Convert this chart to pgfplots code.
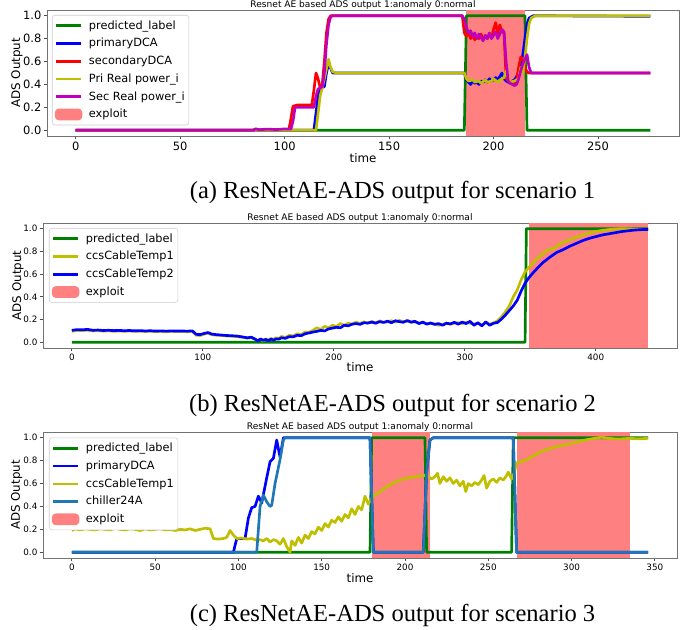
\documentclass[border=0pt]{standalone}
\usepackage{fontspec}
\setmainfont{DejaVu Sans}
\newfontfamily\capfont{Liberation Serif}
\usepackage{pgfplots}
\pgfplotsset{compat=1.18}

\definecolor{mplgreen}{rgb}{0,0.5,0}
\definecolor{mplblue}{rgb}{0,0,1}
\definecolor{mplred}{rgb}{1,0,0}
\definecolor{mplyellow}{rgb}{0.75,0.75,0}
\definecolor{mplmagenta}{rgb}{0.75,0,0.75}
\definecolor{mplCzero}{RGB}{31,119,180}
\definecolor{exploitred}{RGB}{255,128,128}

\pgfplotsset{
  every axis title shift=0pt,
  adsaxis/.style={
    scale only axis,
    anchor=south west,
    ymin=-0.05, ymax=1.05,
    ytick={0,0.2,0.4,0.6,0.8,1.0},
    yticklabel style={xshift=1.8pt, /pgf/number format/.cd,fixed,fixed zerofill,precision=1},
    /pgf/number format/assume math mode=true,
    axis line style={black!55,line width=0.6pt},
    tick align=outside,
    tick style={black!70,line width=0.6pt},
    major tick length=2.5pt,
    xtick pos=bottom, ytick pos=left,
    xticklabel style={yshift=1.2pt},
    xlabel={time}, ylabel={ADS Output},
    label style={font=\fontsize{8.9}{10}\selectfont},
    title style={font=\fontsize{6.8}{8}\selectfont, at={(0.5,1)}, anchor=south, inner sep=0.6pt},
    legend cell align=left,
    legend style={at={(0,1)}, anchor=north west, draw=black!20, rounded corners=2pt, fill=white,
      font=\fontsize{8.5}{10}\selectfont, inner xsep=2pt, inner ysep=2.2pt, row sep=1.9pt,
      nodes={inner sep=1pt, text height=0.72em, text depth=0.22em},
      /tikz/every odd column/.append style={column sep=4pt}},
    legend image code/.code={\draw[##1,line width=2pt] (0pt,0pt) -- (18.5pt,0pt);},
    every axis plot/.append style={line width=2pt, line join=round},
  },
  exploitlegend/.style={legend image code/.code={\fill[exploitred] (0pt,-3.4pt) rectangle (18.5pt,3.4pt);}},
}

\begin{document}
\begin{tikzpicture}
\useasboundingbox (0,0) rectangle (524.25pt,471.75pt);

% ---------------- scenario 1
\begin{axis}[adsaxis,
  at={(35.25pt,369.75pt)}, width=474pt, height=94.5pt,
  xmin=-13.75, xmax=288.75, xtick={0,50,...,250},
  tick label style={font=\fontsize{8.6}{10}\selectfont},
  title={Resnet AE based ADS output 1:anomaly 0:normal},
  xlabel style={at={(axis description cs:0.5,-0.175)}, anchor=center},
  ylabel style={at={(axis description cs:-0.0475,0.5)}, anchor=center},
  legend style={xshift=3.75pt, yshift=-3.75pt},
]
\addplot[fill=exploitred, draw=none, forget plot] coordinates {(187,-0.05) (187,1.05) (215,1.05) (215,-0.05)} -- cycle;
\addplot[mplgreen] coordinates {(0,0)(186,0)(187,1)(215,1)(216,0)(275,0)};
\addlegendentry{predicted\_label}
\addplot[mplblue] coordinates {(0,0)(114,0)(116,0.3)(117,0.37)(119,0.38)(120,0.5)(121,0.58)(123,0.5)(186,0.5)(187,0.44)(188,0.42)(189,0.40)(190,0.43)(191,0.41)(192,0.42)(193,0.40)(194,0.43)(195,0.42)(196,0.44)(197,0.42)(198,0.45)(199,0.43)(200,0.44)(201,0.46)(202,0.44)(203,0.47)(204,0.50)(205,0.45)(206,0.43)(207,0.42)(208,0.41)(209,0.43)(210,0.44)(211,0.47)(212,0.50)(213,0.56)(214,0.66)(215,0.80)(216,0.93)(217,0.98)(219,1.0)(275,0.995)};
\addlegendentry{primaryDCA}
\addplot[mplred] coordinates {(0,0)(85,0)(86,0.01)(88,0.005)(95,0.005)(100,0.008)(102,0.005)(103,0.1)(104,0.21)(106,0.22)(113,0.22)(114,0.35)(115,0.50)(116,0.45)(117,0.37)(118,0.40)(119,0.6)(120,0.85)(121,0.97)(122,1.0)(185,1.0)(186,0.85)(187,0.82)(188,0.86)(189,0.80)(190,0.83)(191,0.79)(192,0.82)(193,0.80)(194,0.84)(195,0.79)(196,0.82)(197,0.80)(198,0.84)(199,0.81)(200,0.88)(201,0.94)(202,0.84)(203,0.92)(204,0.86)(205,0.85)(206,0.45)(207,0.43)(208,0.42)(209,0.43)(210,0.41)(211,0.44)(212,0.55)(213,0.64)(214,0.62)(215,0.55)(216,0.51)(217,0.5)(275,0.5)};
\addlegendentry{secondaryDCA}
\addplot[mplyellow] coordinates {(0,0)(115,0)(117,0.3)(118,0.37)(119,0.45)(121,0.62)(122,0.55)(123,0.51)(125,0.5)(186,0.5)(187,0.45)(188,0.43)(190,0.44)(191,0.42)(193,0.43)(194,0.41)(196,0.44)(197,0.42)(199,0.43)(200,0.45)(202,0.42)(203,0.44)(205,0.46)(206,0.52)(207,0.45)(208,0.42)(210,0.43)(211,0.44)(212,0.45)(213,0.55)(214,0.50)(215,0.63)(216,0.80)(217,0.93)(218,0.98)(220,1.0)(275,1.0)};
\addlegendentry{Pri Real power\_i}
\addplot[mplmagenta] coordinates {(0,0)(85,0)(86,0.012)(88,0.005)(92,0.01)(96,0.006)(100,0.012)(103,0.01)(104,0.08)(105,0.2)(114,0.2)(115,0.3)(116,0.36)(118,0.38)(119,0.5)(120,0.75)(121,0.92)(122,0.99)(123,1.0)(185,1.0)(186,0.97)(187,0.90)(188,0.85)(189,0.87)(190,0.82)(191,0.85)(192,0.80)(193,0.84)(194,0.81)(195,0.78)(196,0.83)(197,0.80)(198,0.85)(199,0.80)(200,0.83)(201,0.86)(202,0.80)(203,0.84)(204,0.88)(205,0.86)(206,0.60)(207,0.43)(208,0.41)(209,0.40)(210,0.39)(211,0.40)(212,0.45)(213,0.52)(214,0.58)(215,0.62)(216,0.66)(217,0.55)(218,0.5)(275,0.5)};
\addlegendentry{Sec Real power\_i}
\addlegendimage{exploitlegend}
\addlegendentry{exploit}
\end{axis}

% ---------------- scenario 2
\begin{axis}[adsaxis,
  at={(32.25pt,210.75pt)}, width=475.5pt, height=93.75pt,
  xmin=-22, xmax=462, xtick={0,100,...,400},
  tick label style={font=\fontsize{6.6}{8}\selectfont},
  title={Resnet AE based ADS output 1:anomaly 0:normal},
  xlabel style={at={(axis description cs:0.5,-0.149)}, anchor=center},
  ylabel style={at={(axis description cs:-0.0394,0.5)}, anchor=center},
  legend style={xshift=4.5pt, yshift=-3.75pt},
]
\addplot[fill=exploitred, draw=none, forget plot] coordinates {(349,-0.05) (349,1.05) (440,1.05) (440,-0.05)} -- cycle;
\addplot[mplgreen] coordinates {(0,0)(346,0)(347,1)(440,1)};
\addlegendentry{predicted\_label}
\addplot[mplyellow] coordinates {(0,0.098)(4,0.104)(8,0.103)(12,0.106)(16,0.100)(20,0.102)(24,0.098)(28,0.101)(32,0.097)(36,0.099)(40,0.097)(44,0.099)(48,0.096)(52,0.098)(56,0.095)(60,0.097)(64,0.094)(68,0.096)(72,0.093)(76,0.096)(80,0.094)(84,0.095)(88,0.093)(92,0.095)(95,0.062)(98,0.060)(101,0.072)(104,0.080)(107,0.066)(110,0.063)(114,0.060)(118,0.056)(122,0.054)(126,0.050)(130,0.045)(134,0.036)(137,0.042)(140,0.024)(142,0.015)(144,0.028)(146,0.012)(148,0.030)(150,0.018)(152,0.034)(154,0.026)(156,0.040)(158,0.032)(160,0.052)(163,0.042)(166,0.062)(169,0.055)(172,0.075)(175,0.066)(178,0.090)(181,0.088)(184,0.105)(187,0.128)(190,0.112)(193,0.140)(196,0.128)(199,0.150)(202,0.140)(205,0.165)(208,0.148)(211,0.170)(214,0.158)(217,0.178)(220,0.166)(223,0.180)(226,0.168)(229,0.184)(232,0.172)(235,0.188)(238,0.176)(241,0.180)(244,0.190)(247,0.178)(250,0.192)(253,0.182)(256,0.186)(259,0.175)(262,0.180)(265,0.170)(268,0.172)(271,0.165)(274,0.168)(277,0.160)(280,0.150)(283,0.158)(286,0.170)(289,0.158)(292,0.168)(295,0.172)(298,0.165)(301,0.176)(304,0.168)(307,0.160)(310,0.168)(313,0.152)(316,0.172)(319,0.160)(322,0.170)(325,0.190)(328,0.225)(331,0.270)(334,0.320)(337,0.400)(340,0.460)(343,0.550)(346,0.620)(349,0.660)(352,0.700)(356,0.745)(360,0.785)(364,0.815)(368,0.825)(372,0.860)(376,0.885)(380,0.902)(385,0.925)(390,0.945)(395,0.962)(400,0.975)(405,0.985)(410,0.992)(415,0.997)(420,1.0)(425,0.998)(430,0.995)(435,0.99)(440,0.985)};
\addlegendentry{ccsCableTemp1}
\addplot[mplblue] coordinates {(0,0.105)(4,0.112)(8,0.110)(12,0.114)(16,0.106)(20,0.108)(24,0.104)(28,0.106)(32,0.103)(36,0.105)(40,0.102)(44,0.104)(48,0.101)(52,0.103)(56,0.100)(60,0.102)(64,0.099)(68,0.101)(72,0.098)(76,0.101)(80,0.099)(84,0.100)(88,0.098)(92,0.101)(95,0.070)(98,0.068)(101,0.078)(104,0.086)(107,0.072)(110,0.068)(114,0.064)(118,0.060)(122,0.058)(126,0.055)(130,0.048)(134,0.040)(137,0.045)(140,0.028)(142,0.012)(144,0.030)(146,0.018)(148,0.025)(150,0.015)(152,0.028)(154,0.020)(156,0.030)(158,0.028)(160,0.040)(163,0.035)(166,0.050)(169,0.048)(172,0.062)(175,0.058)(178,0.075)(181,0.082)(184,0.090)(187,0.096)(190,0.105)(193,0.100)(196,0.118)(199,0.125)(202,0.132)(205,0.128)(208,0.150)(211,0.145)(214,0.160)(217,0.165)(220,0.158)(223,0.172)(226,0.170)(229,0.178)(232,0.168)(235,0.182)(238,0.175)(241,0.186)(244,0.172)(247,0.190)(250,0.182)(253,0.176)(256,0.192)(259,0.178)(262,0.185)(265,0.165)(268,0.178)(271,0.160)(274,0.170)(277,0.158)(280,0.165)(283,0.150)(286,0.168)(289,0.162)(292,0.176)(295,0.160)(298,0.178)(301,0.165)(304,0.185)(307,0.150)(310,0.172)(313,0.145)(316,0.180)(319,0.150)(322,0.168)(325,0.175)(328,0.205)(331,0.240)(334,0.280)(337,0.320)(340,0.370)(343,0.450)(346,0.520)(349,0.570)(352,0.610)(356,0.660)(360,0.705)(365,0.750)(370,0.790)(375,0.815)(380,0.845)(385,0.870)(390,0.895)(395,0.915)(400,0.930)(405,0.945)(410,0.955)(415,0.965)(420,0.975)(425,0.982)(430,0.988)(435,0.992)(440,0.993)};
\addlegendentry{ccsCableTemp2}
\addlegendimage{exploitlegend}
\addlegendentry{exploit}
\end{axis}

% ---------------- scenario 3
\begin{axis}[adsaxis,
  at={(32.25pt,53.25pt)}, width=475.5pt, height=94.5pt,
  xmin=-17.3, xmax=363.3, xtick={0,50,...,350},
  tick label style={font=\fontsize{6.6}{8}\selectfont},
  title={ResNet AE based ADS output 1:anomaly 0:normal},
  xlabel style={at={(axis description cs:0.5,-0.156)}, anchor=center},
  ylabel style={at={(axis description cs:-0.0415,0.5)}, anchor=center},
  legend style={xshift=4.5pt, yshift=-4.2pt},
]
\addplot[fill=exploitred, draw=none, forget plot] coordinates {(180,-0.05) (180,1.05) (215,1.05) (215,-0.05)} -- cycle;
\addplot[fill=exploitred, draw=none, forget plot] coordinates {(267,-0.05) (267,1.05) (335,1.05) (335,-0.05)} -- cycle;
\addplot[mplgreen] coordinates {(0,0)(179,0)(180,1)(212,1)(213,0)(264,0)(265,1)(346,1)};
\addlegendentry{predicted\_label}
\addplot[mplblue] coordinates {(0,0)(97,0)(99,0.12)(104,0.12)(106,0.3)(108,0.39)(110,0.40)(112,0.49)(114,0.43)(117,0.65)(119,0.79)(121,0.82)(123,0.98)(125,0.83)(127,1.0)(179,1.0)(181,0)(211,0)(213,0.7)(215,0.98)(217,1.0)(265,1.0)(267,0)(346,0)};
\addlegendentry{primaryDCA}
\addplot[mplyellow] coordinates {(0,0.19)(2,0.205)(5,0.195)(8,0.205)(11,0.20)(14,0.195)(17,0.205)(20,0.20)(23,0.195)(26,0.21)(29,0.20)(32,0.195)(35,0.205)(38,0.20)(41,0.19)(44,0.205)(47,0.195)(50,0.20)(53,0.205)(56,0.195)(59,0.20)(62,0.19)(65,0.20)(68,0.195)(71,0.205)(74,0.19)(77,0.20)(80,0.21)(83,0.205)(85,0.12)(88,0.115)(91,0.12)(93,0.13)(95,0.19)(97,0.15)(99,0.12)(102,0.125)(105,0.115)(108,0.12)(111,0.105)(113,0.11)(115,0.10)(117,0.12)(119,0.09)(121,0.11)(123,0.10)(125,0.07)(127,0.12)(129,0.05)(131,0.0)(132,0.1)(134,0.06)(136,0.13)(138,0.08)(140,0.15)(142,0.12)(144,0.18)(146,0.16)(148,0.22)(150,0.19)(152,0.25)(154,0.22)(156,0.28)(158,0.26)(160,0.31)(162,0.27)(164,0.33)(166,0.30)(168,0.38)(170,0.33)(172,0.40)(174,0.37)(176,0.49)(178,0.42)(180,0.47)(182,0.50)(185,0.53)(188,0.56)(191,0.59)(194,0.61)(197,0.63)(200,0.645)(203,0.65)(206,0.66)(209,0.665)(212,0.67)(214,0.66)(216,0.64)(218,0.66)(219.5,0.69)(221,0.60)(223,0.66)(225,0.62)(227,0.65)(229,0.60)(231,0.63)(233,0.58)(235,0.62)(236.5,0.53)(238,0.60)(240,0.58)(242,0.61)(244,0.59)(246,0.63)(247.5,0.67)(249,0.56)(251,0.62)(253,0.64)(255,0.61)(257,0.65)(259,0.63)(261,0.67)(262,0.70)(264,0.64)(265.5,0.69)(267,0.78)(270,0.79)(273,0.81)(276,0.83)(279,0.86)(282,0.88)(286,0.90)(290,0.92)(295,0.935)(300,0.95)(305,0.97)(310,0.985)(314,0.995)(318,1.005)(322,0.995)(326,0.99)(330,0.99)(335,0.995)(340,0.99)(346,0.995)};
\addlegendentry{ccsCableTemp1}
\addplot[mplCzero] coordinates {(0,0)(111,0)(113,0.4)(115,0.5)(117,0.44)(119,0.4)(120,0.41)(122,0.6)(125,0.81)(127,0.98)(128,1.0)(179,1.0)(181,0)(211,0)(213,0.7)(215,0.98)(217,1.0)(265,1.0)(267,0)(346,0)};
\addlegendentry{chiller24A}
\addlegendimage{exploitlegend}
\addlegendentry{exploit}
\end{axis}

% captions
\node[anchor=base, font=\capfont\fontsize{18.4}{20}\selectfont] at (294.4pt,322.5pt) {(a) ResNetAE-ADS output for scenario 1};
\node[anchor=base, font=\capfont\fontsize{18.4}{20}\selectfont] at (294.4pt,163.5pt) {(b) ResNetAE-ADS output for scenario 2};
\node[anchor=base, font=\capfont\fontsize{18.4}{20}\selectfont] at (294.4pt,6pt) {(c) ResNetAE-ADS output for scenario 3};
\end{tikzpicture}
\end{document}
